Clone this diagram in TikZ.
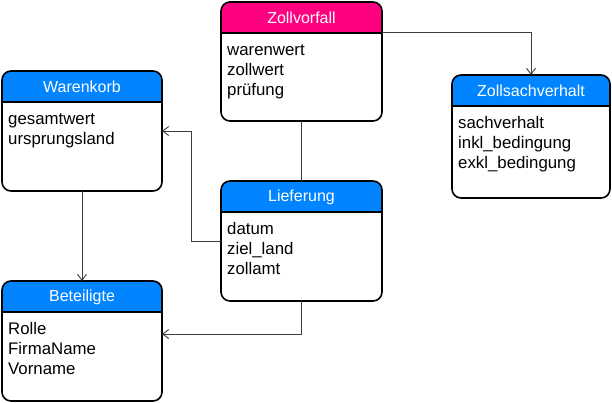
\documentclass[tikz,border=0pt]{standalone}
\usepackage{fontspec}
\setmainfont{Liberation Sans}
\usetikzlibrary{arrows.meta}
\definecolor{hblue}{RGB}{0,132,255}
\definecolor{hpink}{RGB}{255,0,128}
\definecolor{conn}{RGB}{60,60,60}
\tikzset{
  ebox/.style={draw=black, line width=1.6pt, rounded corners=9pt, inner sep=0pt, outer sep=0pt},
  hdrline/.style={draw=black, line width=1.4pt},
  etitle/.style={text=white, font=\fontsize{16}{19}\selectfont, inner sep=0pt, anchor=center},
  eline/.style={text=black, font=\fontsize{16.8}{20}\selectfont, inner sep=0pt, anchor=base west},
  link/.style={draw=conn, line width=0.9pt},
  linkarrow/.style={link, -{Straight Barb[length=6pt,width=9pt,line width=0.9pt]}}
}
\newcommand\entbox[8]{%
  \fill[#6] (#2,#3+31) {[rounded corners=9pt] -- (#2,#3) -- (#4,#3)} -- (#4,#3+31) -- cycle;
  \draw[hdrline] (#2,#3+31) -- (#4,#3+31);
  \node[ebox, minimum width=#4-#2, minimum height=#5-#3] (#1) at ({(#2+#4)/2},{(#3+#5)/2}) {};
  \node[etitle] (#1-t) at ({(#2+#4)/2},#3+16) {#7};
  \foreach \t [count=\i] in {#8} \node[eline] (#1-\i) at (#2+6, #3+31+22+20*\i-20) {\t};
}
\begin{document}
\begin{tikzpicture}[x=1pt,y=-1pt]
\useasboundingbox (0,0) rectangle (612,402);
\fill[white] (0,0) rectangle (612,402);
\entbox{zv}{221}{2}{382}{121}{hpink}{Zollvorfall}{warenwert,zollwert,prüfung}
\entbox{wk}{2}{71}{162}{191}{hblue}{Warenkorb}{gesamtwert,ursprungsland}
\entbox{zs}{452}{75}{610}{198}{hblue}{Zollsachverhalt}{sachverhalt,inkl\_bedingung,exkl\_bedingung}
\entbox{lf}{221}{181}{382}{301}{hblue}{Lieferung}{datum,ziel\_land,zollamt}
\entbox{bt}{2}{281}{162}{401}{hblue}{Beteiligte}{Rolle,FirmaName,Vorname}
% connectors
\draw[linkarrow] ([yshift=-30pt]zv.north east) -| (zs.north);
\draw[link] (zv.south) -- (lf.north);
\draw[linkarrow] (lf.west) -- ++(-30,0) |- (wk.east);
\draw[linkarrow] (wk.south) -- (bt.north);
\draw[linkarrow] (lf.south) |- ([yshift=7pt]bt.east);
\end{tikzpicture}
\end{document}
